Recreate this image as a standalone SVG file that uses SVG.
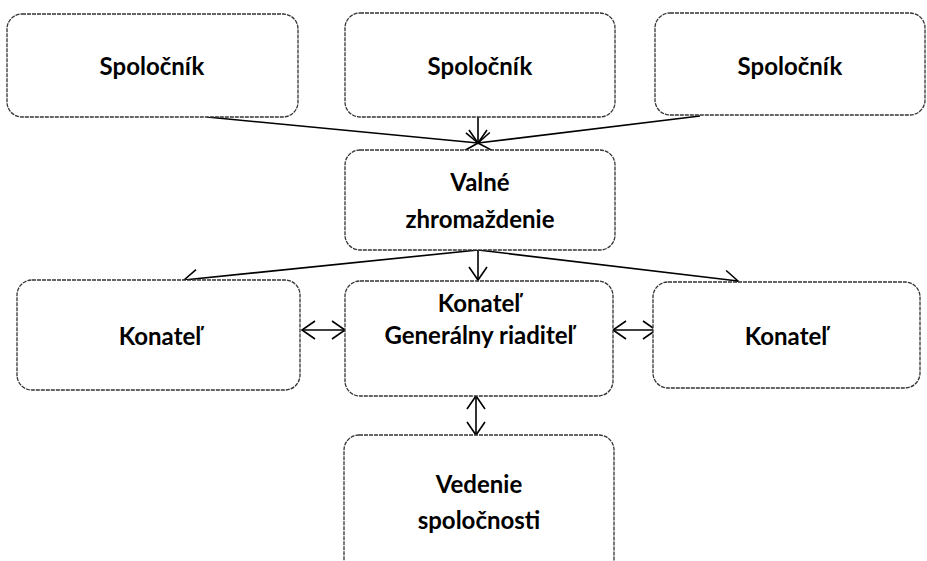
<svg xmlns="http://www.w3.org/2000/svg" width="927" height="561" viewBox="0 0 927 561">
<style>
.box{fill:#fff;stroke:#333;stroke-width:1.3;stroke-dasharray:4 1}
.t{font-family:Lato,"Open Sans","Liberation Sans",sans-serif;font-weight:bold;font-size:24px;fill:#000;text-anchor:middle}
.c{stroke:#000;stroke-width:1.6;fill:none}
</style>
<defs>
<marker id="ah" markerWidth="16" markerHeight="20" refX="14" refY="10" orient="auto-start-reverse" markerUnits="userSpaceOnUse">
<path d="M1,1 L14,10 L1,19" fill="none" stroke="#000" stroke-width="1.6"/>
</marker>
</defs>
<rect width="927" height="561" fill="#fff"/>
<g id="connectors">
<line class="c" x1="207" y1="117" x2="478" y2="143" marker-end="url(#ah)"/>
<line class="c" x1="478" y1="117" x2="478" y2="143" marker-end="url(#ah)"/>
<line class="c" x1="700" y1="116" x2="478" y2="143" marker-end="url(#ah)"/>
<line class="c" x1="478" y1="250" x2="184" y2="280" marker-end="url(#ah)"/>
<line class="c" x1="478" y1="250" x2="478" y2="280" marker-end="url(#ah)"/>
<line class="c" x1="478" y1="250" x2="738" y2="281" marker-end="url(#ah)"/>
<line class="c" x1="302" y1="330" x2="345" y2="330" marker-start="url(#ah)" marker-end="url(#ah)"/>
<line class="c" x1="613" y1="330" x2="656" y2="330" marker-start="url(#ah)" marker-end="url(#ah)"/>
<line class="c" x1="476" y1="396" x2="476" y2="435" marker-start="url(#ah)" marker-end="url(#ah)"/>
</g>
<g id="n1"><rect class="box" x="7" y="14" width="291" height="103" rx="15"/><text class="t" x="152" y="75">Spoločník</text></g>
<g id="n2"><rect class="box" x="345" y="13" width="270" height="104" rx="15"/><text class="t" x="480" y="75">Spoločník</text></g>
<g id="n3"><rect class="box" x="655" y="13" width="270" height="102" rx="15"/><text class="t" x="790" y="75">Spoločník</text></g>
<g id="n4"><rect class="box" x="345" y="150" width="270" height="100" rx="15"/><text class="t" x="480" y="191">Valné</text><text class="t" x="480" y="228">zhromaždenie</text></g>
<g id="n5"><rect class="box" x="17" y="280" width="283" height="110" rx="15"/><text class="t" x="160" y="345">Konateľ</text></g>
<g id="n6"><rect class="box" x="345" y="281" width="268" height="115" rx="15"/><text class="t" x="479" y="312">Konateľ</text><text class="t" x="479" y="344">Generálny riaditeľ</text></g>
<g id="n7"><rect class="box" x="653" y="282" width="267" height="106" rx="15"/><text class="t" x="786" y="345">Konateľ</text></g>
<g id="n8"><rect class="box" x="344" y="435" width="270" height="140" rx="15"/><text class="t" x="479" y="493">Vedenie</text><text class="t" x="479" y="529">spoločnosti</text></g>
</svg>
